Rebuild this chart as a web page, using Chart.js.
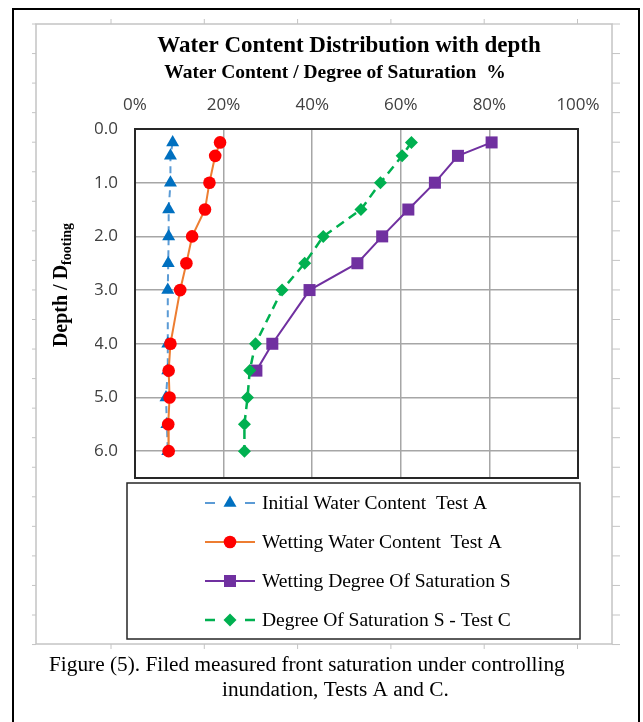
<!DOCTYPE html>
<html>
<head>
<meta charset="utf-8">
<script src="https://cdn.jsdelivr.net/npm/chart.js@4.4.0/dist/chart.umd.min.js"></script>
<style>
  html, body { margin: 0; padding: 0; background: #fff; }
  #wrap { width: 643px; height: 722px; position: relative; }
</style>
</head>
<body>
<div id="wrap"><canvas id="profile"></canvas></div>
<script>
// depth ratios (Depth / D footing)
const depth = [0.25, 0.5, 1.0, 1.5, 2.0, 2.5, 3.0, 4.0, 4.5, 5.0, 5.5, 6.0];
const depthSat = [0.25, 0.5, 1.0, 1.5, 2.0, 2.5, 3.0, 4.0, 4.5];

// values in %
const initialWC = [8.5, 8.0, 8.0, 7.6, 7.6, 7.5, 7.4, 7.4, 7.4, 7.0, 7.2, 7.4];
const wettingWC = [19.2, 18.1, 16.8, 15.8, 12.9, 11.6, 10.2, 8.0, 7.6, 7.8, 7.5, 7.6];
const wettingSat = [80.5, 72.9, 67.7, 61.7, 55.8, 50.2, 39.4, 31.0, 27.4];
const satTestC = [62.4, 60.3, 55.4, 51.0, 42.5, 38.3, 33.2, 27.2, 25.9, 25.4, 24.7, 24.7];

const seriesLabels = [
  "Initial Water Content  Test A",
  "Wetting Water Content  Test A",
  "Wetting Degree Of Saturation S",
  "Degree Of Saturation S - Test C",
];

function toPoints(xs, ys) {
  return xs.map((v, i) => ({ x: v, y: ys[i] }));
}

function drawMarker(ctx, style, r, x, y, color) {
  ctx.save();
  ctx.fillStyle = color;
  ctx.beginPath();
  if (style === "triangle") {
    for (let k = 0; k < 3; k++) {
      const a = k * 2 * Math.PI / 3;
      const px = x + Math.sin(a) * r, py = y - Math.cos(a) * r;
      k === 0 ? ctx.moveTo(px, py) : ctx.lineTo(px, py);
    }
  } else if (style === "circle") {
    ctx.arc(x, y, r, 0, Math.PI * 2);
  } else if (style === "rect") {
    const s = Math.SQRT1_2 * r;
    ctx.rect(x - s, y - s, 2 * s, 2 * s);
  } else if (style === "rectRot") {
    ctx.moveTo(x - r, y);
    ctx.lineTo(x, y - r);
    ctx.lineTo(x + r, y);
    ctx.lineTo(x, y + r);
  }
  ctx.closePath();
  ctx.fill();
  ctx.restore();
}

const decor = {
  id: "decor",
  beforeDraw(chart) {
    const ctx = chart.ctx;
    ctx.save();
    ctx.fillStyle = "#fff";
    ctx.fillRect(0, 0, chart.width, chart.height);

    // grey page frame with small ticks
    ctx.strokeStyle = "#c4c4c4";
    ctx.lineWidth = 1.5;
    ctx.strokeRect(36, 24, 576, 620);
    ctx.lineWidth = 1;
    ctx.beginPath();
    for (let y = 24; y <= 645; y += 29.55) {
      ctx.moveTo(32, y); ctx.lineTo(36, y);
      ctx.moveTo(612, y); ctx.lineTo(620, y);
    }
    for (let x = 111; x <= 612; x += 93.3) {
      ctx.moveTo(x, 19); ctx.lineTo(x, 24);
      ctx.moveTo(x, 644); ctx.lineTo(x, 649);
    }
    ctx.stroke();

    // outer black border
    ctx.strokeStyle = "#000";
    ctx.lineWidth = 2;
    ctx.beginPath();
    ctx.moveTo(13, 730); ctx.lineTo(13, 9); ctx.lineTo(639, 9); ctx.lineTo(639, 730);
    ctx.stroke();
    ctx.restore();
  },
  afterDraw(chart) {
    const ctx = chart.ctx;
    const a = chart.chartArea;
    ctx.save();

    // plot border
    ctx.strokeStyle = "#262626";
    ctx.lineWidth = 2;
    ctx.strokeRect(a.left, a.top, a.right - a.left, a.bottom - a.top);

    // titles
    ctx.fillStyle = "#000";
    ctx.textAlign = "center";
    ctx.textBaseline = "alphabetic";
    ctx.font = "bold 23px 'Liberation Serif'";
    ctx.fillText("Water Content Distribution with depth", 349, 52);
    ctx.font = "bold 19.5px 'Liberation Serif'";
    ctx.fillText("Water Content / Degree of Saturation  %", 335, 78);

    // y axis title with subscript
    ctx.save();
    ctx.translate(67, 285);
    ctx.rotate(-Math.PI / 2);
    ctx.textAlign = "left";
    const main = "Depth / D";
    ctx.font = "bold 20px 'Liberation Serif'";
    const w1 = ctx.measureText(main).width;
    ctx.font = "bold 14px 'Liberation Serif'";
    const w2 = ctx.measureText("footing").width;
    const x0 = -(w1 + w2) / 2;
    ctx.font = "bold 20px 'Liberation Serif'";
    ctx.fillText(main, x0, 0);
    ctx.font = "bold 14px 'Liberation Serif'";
    ctx.fillText("footing", x0 + w1, 4);
    ctx.restore();

    // legend box
    ctx.strokeStyle = "#262626";
    ctx.lineWidth = 1.5;
    ctx.strokeRect(127, 483, 453, 156);
    const rows = [503, 542, 581, 620];
    chart.data.datasets.forEach((ds, i) => {
      const y = rows[i];
      ctx.save();
      ctx.strokeStyle = ds.borderColor;
      ctx.lineWidth = ds.borderWidth;
      if (ds.borderDash.length) {
        ctx.setLineDash([10, 30]);
      }
      ctx.beginPath();
      ctx.moveTo(205, y); ctx.lineTo(255, y);
      ctx.stroke();
      ctx.restore();
      drawMarker(ctx, ds.pointStyle, ds.pointRadius, 230, y, ds.pointBackgroundColor);
      ctx.fillStyle = "#000";
      ctx.textAlign = "left";
      ctx.textBaseline = "middle";
      ctx.font = "19.5px 'Liberation Serif'";
      ctx.fillText(ds.label, 262, y + 1);
    });

    // caption
    ctx.textBaseline = "alphabetic";
    ctx.textAlign = "left";
    ctx.font = "21.3px 'Liberation Serif'";
    ctx.fillText("Figure (5). Filed measured front saturation under controlling", 49, 671);
    ctx.fillText("inundation, Tests A and C.", 222, 696);
    ctx.restore();
  },
};

const config = {
  type: "scatter",
  data: {
    datasets: [
      {
        label: seriesLabels[0],
        data: toPoints(initialWC, depth),
        showLine: true,
        borderColor: "#5B9BD5",
        borderWidth: 2,
        borderDash: [7, 5],
        pointStyle: "triangle",
        pointRadius: 7.5,
        pointBackgroundColor: "#0070C0",
        pointBorderColor: "#0070C0",
        pointBorderWidth: 0,
        order: 3,
      },
      {
        label: seriesLabels[1],
        data: toPoints(wettingWC, depth),
        showLine: true,
        borderColor: "#ED7D31",
        borderWidth: 2,
        borderDash: [],
        pointStyle: "circle",
        pointRadius: 6.3,
        pointBackgroundColor: "#FF0000",
        pointBorderColor: "#FF0000",
        pointBorderWidth: 0,
        order: 2,
      },
      {
        label: seriesLabels[2],
        data: toPoints(wettingSat, depthSat),
        showLine: true,
        borderColor: "#7030A0",
        borderWidth: 2,
        borderDash: [],
        pointStyle: "rect",
        pointRadius: 8.5,
        pointBackgroundColor: "#7030A0",
        pointBorderColor: "#7030A0",
        pointBorderWidth: 0,
        order: 1,
      },
      {
        label: seriesLabels[3],
        data: toPoints(satTestC, depth),
        showLine: true,
        borderColor: "#00B050",
        borderWidth: 2.5,
        borderDash: [9, 6],
        pointStyle: "rectRot",
        pointRadius: 6.5,
        pointBackgroundColor: "#00B050",
        pointBorderColor: "#00B050",
        pointBorderWidth: 0,
        order: 0,
      },
    ],
  },
  options: {
    responsive: true,
    maintainAspectRatio: false,
    animation: false,
    layout: {
      padding: { left: 95, top: 84, right: 65, bottom: 244 },
    },
    plugins: {
      legend: { display: false },
      title: { display: false },
      tooltip: { enabled: false },
    },
    scales: {
      x: {
        type: "linear",
        position: "top",
        min: 0,
        max: 100,
        afterFit: (scale) => { scale.height = 45; },
        grid: { color: "#a6a6a6", lineWidth: 1.5, drawTicks: false },
        border: { display: false },
        ticks: {
          stepSize: 20,
          padding: 14,
          color: "#404040",
          font: { family: "'Open Sans'", size: 17 },
          callback: (v) => v + "%",
        },
      },
      y: {
        type: "linear",
        reverse: true,
        min: 0,
        max: 6.5,
        afterFit: (scale) => { scale.width = 40; },
        grid: { color: "#a6a6a6", lineWidth: 1.5, drawTicks: false },
        border: { display: false },
        ticks: {
          stepSize: 1,
          includeBounds: false,
          padding: 17,
          color: "#404040",
          font: { family: "'Open Sans'", size: 17 },
          callback: (v) => v.toFixed(1),
        },
      },
    },
  },
  plugins: [decor],
};

const ctx = document.getElementById("profile").getContext("2d");
const profileChart = new Chart(ctx, config);
</script>
</body>
</html>
